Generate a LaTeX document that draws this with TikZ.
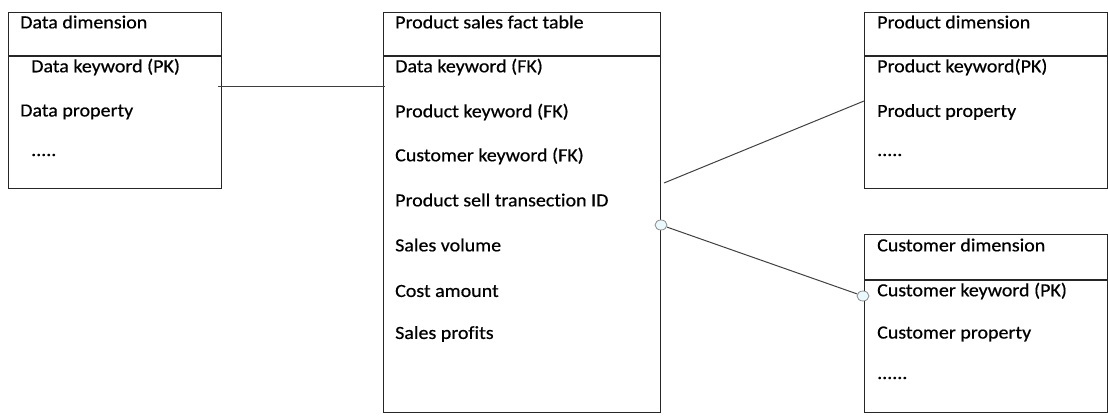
\documentclass[tikz,border=0pt]{standalone}
\usepackage{fontspec}
\setmainfont{Carlito}[FakeStretch=1.08,FakeBold=0.6,Ligatures={NoCommon}]
\usetikzlibrary{shapes.geometric}
\begin{document}
\begin{tikzpicture}[x=1pt,y=-1pt,
 tbl/.style={draw=black!85, line width=1.3pt, inner sep=0, anchor=north west},
 divider/.style={draw=black!85, line width=1.3pt},
 lbl/.style={anchor=west, inner sep=0, font=\fontsize{18.5}{20}\selectfont, text=black},
 conn/.style={draw=black!75, line width=1pt},
 joint/.style={ellipse, draw=black!45, fill=cyan!8, minimum width=12pt, minimum height=10pt, inner sep=0, line width=0.8pt}]
\useasboundingbox (0,0) rectangle (1108,419);
% tables
\node[tbl, minimum width=213pt, minimum height=176pt] (dd) at (8,12) {};
\node[tbl, minimum width=277pt, minimum height=400pt] (ft) at (383,12) {};
\node[tbl, minimum width=243pt, minimum height=176pt] (pd) at (864,12) {};
\node[tbl, minimum width=243pt, minimum height=178pt] (cd) at (864,234) {};
% dividers
\draw[divider] (dd.west |- 0,56) -- (dd.east |- 0,56);
\draw[divider] (ft.west |- 0,56) -- (ft.east |- 0,56);
\draw[divider] (pd.west |- 0,56) -- (pd.east |- 0,56);
\draw[divider] (cd.west |- 0,280) -- (cd.east |- 0,280);
% data dimension
\node[lbl] (dd1) at (20,22) {Data dimension};
\node[lbl] (dd2) at (31,67) {Data keyword (PK)};
\node[lbl] (dd3) at (20,112) {Data property};
\node[lbl] (dd4) at (31,155) {.....};
% fact table
\node[lbl] (ft1) at (395,22) {Product sales fact table};
\node[lbl] (ft2) at (395,67) {Data keyword (FK)};
\node[lbl] (ft3) at (395,112) {Product keyword (FK)};
\node[lbl] (ft4) at (395,156) {Customer keyword (FK)};
\node[lbl] (ft5) at (395,200) {Product sell transection ID};
\node[lbl] (ft6) at (395,245) {Sales volume};
\node[lbl] (ft7) at (395,291) {Cost amount};
\node[lbl] (ft8) at (395,334) {Sales profits};
% product dimension
\node[lbl] (pd1) at (877,22) {Product dimension};
\node[lbl] (pd2) at (877,67) {Product keyword(PK)};
\node[lbl] (pd3) at (877,112) {Product property};
\node[lbl] (pd4) at (877,155) {.....};
% customer dimension
\node[lbl] (cd1) at (877,245) {Customer dimension};
\node[lbl] (cd2) at (877,291) {Customer keyword (PK)};
\node[lbl] (cd3) at (877,334) {Customer property};
\node[lbl] (cd4) at (877,378) {......};
% connectors
\coordinate (a1) at (218,87);
\coordinate (a2) at (385,87);
\draw[conn] (a1) -- (a2);
\coordinate (b1) at (664,183);
\coordinate (b2) at (864,101);
\draw[conn] (b1) -- (b2);
\node[joint] (j1) at (661,225) {};
\node[joint] (j2) at (863,296) {};
\draw[conn] (j1) -- (j2);
\end{tikzpicture}
\end{document}
